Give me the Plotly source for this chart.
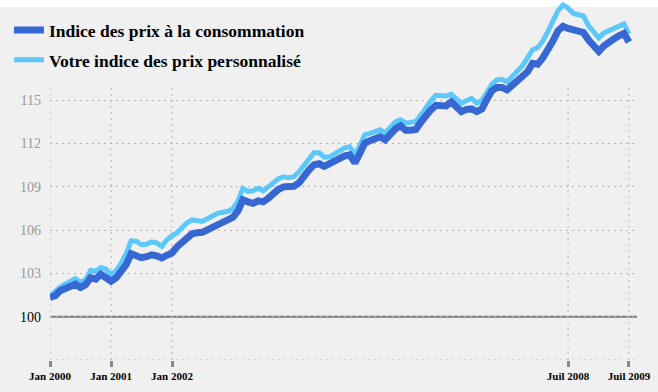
import pandas as pd
import plotly.graph_objects as go

months = pd.date_range("2000-01-01", "2009-07-01", freq="MS").strftime("%Y-%m-%d").tolist()

cpi = [101.34, 101.45, 101.80, 101.94, 102.08, 102.25, 102.03, 102.22, 102.70, 102.60,
       102.94, 102.77, 102.46, 102.70, 103.12, 103.60, 104.36, 104.22, 104.09, 104.16,
       104.29, 104.22, 104.07, 104.26, 104.43, 104.85, 105.12, 105.54, 105.75, 105.82,
       105.85, 106.02, 106.20, 106.37, 106.51, 106.72, 106.89, 107.34, 108.10, 107.96,
       107.86, 108.03, 107.96, 108.21, 108.55, 108.83, 109.00, 108.97, 109.04, 109.28,
       109.76, 110.18, 110.53, 110.60, 110.42, 110.60, 110.80, 111.01, 111.15, 111.22,
       110.66, 111.36, 112.03, 112.19, 112.33, 112.47, 112.26, 112.67, 113.02, 113.23,
       112.92, 112.92, 112.98, 113.50, 113.95, 114.34, 114.65, 114.61, 114.61, 114.89,
       114.54, 114.22, 114.37, 114.40, 114.22, 114.40, 115.03, 115.65, 115.89, 115.89,
       115.72, 116.07, 116.38, 116.62, 116.97, 117.56, 117.50, 117.94, 118.46, 119.11,
       119.81, 120.12, 119.98, 119.91, 119.81, 119.70, 119.18, 118.77, 118.39, 118.77,
       119.04, 119.25, 119.46, 119.63, 119.04]

perso = [101.45, 101.80, 102.04, 102.25, 102.42, 102.63, 102.40, 102.56, 103.22, 103.15,
         103.41, 103.29, 102.91, 103.19, 103.67, 104.36, 105.26, 105.23, 104.99, 105.02,
         105.19, 105.12, 104.87, 105.33, 105.61, 105.82, 106.16, 106.51, 106.72, 106.65,
         106.60, 106.79, 106.99, 107.17, 107.24, 107.31, 107.48, 108.03, 108.90, 108.69,
         108.73, 108.90, 108.73, 108.97, 109.28, 109.56, 109.70, 109.63, 109.70, 110.04,
         110.46, 110.87, 111.36, 111.36, 111.05, 111.08, 111.29, 111.50, 111.70, 111.77,
         111.22, 111.91, 112.60, 112.71, 112.83, 112.95, 112.74, 113.16, 113.50, 113.64,
         113.43, 113.47, 113.54, 113.99, 114.51, 114.96, 115.34, 115.30, 115.30, 115.41,
         115.10, 114.80, 114.99, 115.13, 114.80, 114.99, 115.51, 116.10, 116.41, 116.45,
         116.27, 116.62, 117.07, 117.38, 117.94, 118.49, 118.66, 119.11, 119.74, 120.57,
         121.19, 121.61, 121.40, 121.02, 120.91, 120.84, 120.15, 119.67, 119.32, 119.67,
         119.81, 119.98, 120.15, 120.29, 119.60]

series_names = ["Indice des prix à la consommation", "Votre indice des prix personnalisé"]

y_ticks = [100, 103, 106, 109, 112, 115]
y_ticktext = ['<span style="color:#000000">100</span>', "103", "106", "109", "112", "115"]
x_ticks = ["2000-01-01", "2001-01-01", "2002-01-01", "2008-07-01", "2009-07-01"]
x_ticktext = ["Jan 2000", "Jan 2001", "Jan 2002", "Juil 2008", "Juil 2009"]

DARK = "#3767D3"
LIGHT = "#5CC8FB"
GRID = "#b5b5b5"
BG = "#f0f0f0"
DOT = "2px,4px"
SERIF = "Liberation Serif, Times New Roman, Times, serif"

fig = go.Figure()
fig.add_trace(go.Scatter(x=months, y=perso, mode="lines", name=series_names[1],
                         legendgroup="b", legendrank=2,
                         line=dict(color=LIGHT, width=5)))
fig.add_trace(go.Scatter(x=months, y=cpi, mode="lines", name=series_names[0],
                         legendgroup="a", legendrank=1,
                         line=dict(color=DARK, width=7)))

shapes = []
shapes.append(dict(type="rect", xref="paper", yref="paper", x0=-0.2, x1=1.2,
                   y0=1 - 7 / 360, y1=1.01, fillcolor="white", line_width=0, layer="below"))
for xv in x_ticks:
    shapes.append(dict(type="line", xref="x", yref="y", x0=xv, x1=xv, y0=97, y1=116,
                       line=dict(color=GRID, width=1, dash=DOT), layer="below"))
shapes.append(dict(type="line", xref="paper", yref="y", x0=0, x1=1, y0=97, y1=97,
                   line=dict(color=GRID, width=1, dash=DOT), layer="below"))
shapes.append(dict(type="line", xref="paper", yref="y", x0=0, x1=1, y0=100, y1=100,
                   line=dict(color="#7a7a7a", width=2), layer="between"))

fig.update_layout(
    width=658, height=392,
    margin=dict(l=50, r=21, t=0, b=32, autoexpand=False),
    paper_bgcolor=BG, plot_bgcolor=BG,
    showlegend=True, hovermode=False,
    legend=dict(x=-0.07, y=0.966, xanchor="left", yanchor="top",
                traceorder="grouped", tracegroupgap=4,
                bgcolor="rgba(0,0,0,0)",
                font=dict(family=SERIF, size=17.5, color="#000000", weight="bold")),
    shapes=shapes,
    xaxis=dict(type="date", range=["2000-01-01", "2009-08-18"],
               tickvals=x_ticks, ticktext=x_ticktext, automargin=False,
               showgrid=False, zeroline=False, showline=False,
               ticks="outside", ticklen=6, tickwidth=3, tickcolor="#888888",
               tickfont=dict(family=SERIF, size=11, color="#000000", weight="bold")),
    yaxis=dict(range=[97, 121.95], tickvals=y_ticks, ticktext=y_ticktext, automargin=False,
               showgrid=True, gridcolor=GRID, gridwidth=1, griddash=DOT,
               zeroline=False, showline=False, ticks="", ticklabelstandoff=8,
               tickfont=dict(family=SERIF, size=14, color="#999999")),
)

fig.write_html("out.html", config={"displayModeBar": False},
               post_script="document.body.style.margin='0';")
